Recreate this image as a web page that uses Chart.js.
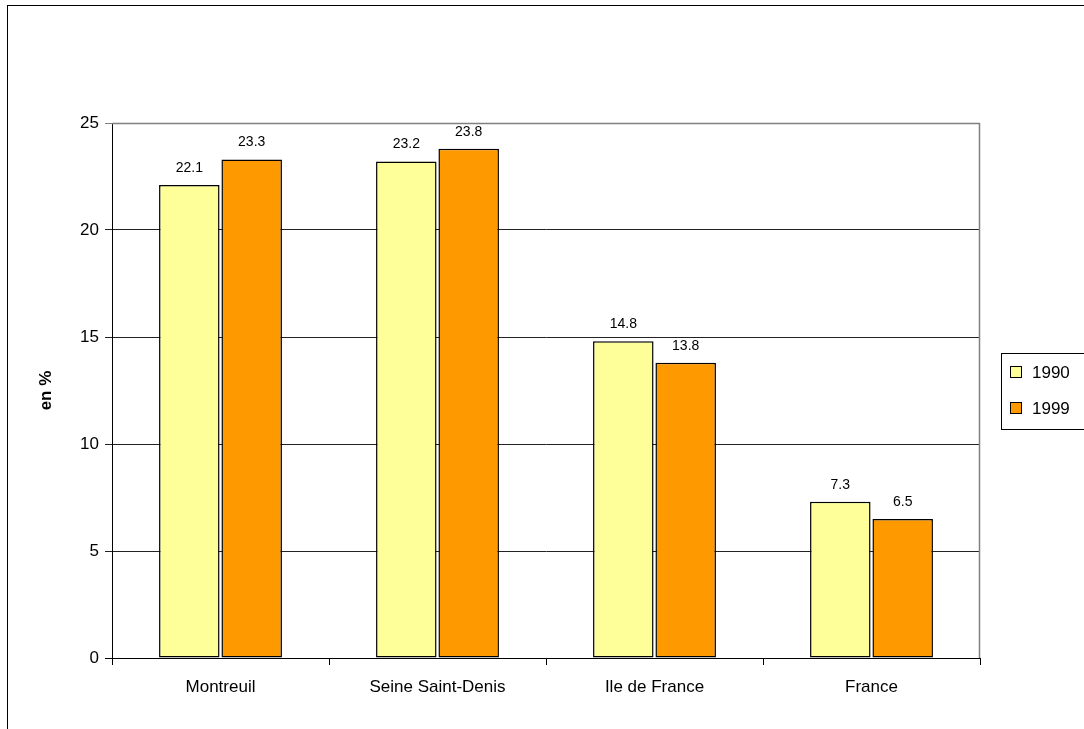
<!DOCTYPE html>
<html>
<head>
<meta charset="utf-8">
<script src="https://cdn.jsdelivr.net/npm/chart.js@4/dist/chart.umd.min.js"></script>
<style>
  html, body { margin: 0; padding: 0; background: #fff; }
  #wrap { width: 1084px; height: 729px; position: relative; }
</style>
</head>
<body>
<div id="wrap"><canvas id="c"></canvas></div>
<script>
  // categories and series
  const places = ["Montreuil", "Seine Saint-Denis", "Ile de France", "France"];
  const y1990 = [22.1, 23.2, 14.8, 7.3];
  const y1999 = [23.3, 23.8, 13.8, 6.5];
  const yTicks = [0, 5, 10, 15, 20, 25];

  const FONT = "'Liberation Sans', Arial, sans-serif";

  // outer frame + plot-area border
  const frame = {
    id: "frame",
    beforeDraw(chart) {
      const ctx = chart.ctx;
      ctx.save();
      ctx.strokeStyle = "#000";
      ctx.lineWidth = 1;
      ctx.strokeRect(7.5, 5.5, 1200, 900);
      ctx.restore();
    },
    beforeDatasetsDraw(chart) {
      const a = chart.chartArea, ctx = chart.ctx;
      ctx.save();
      ctx.strokeStyle = "#808080";
      ctx.lineWidth = 1.5;
      ctx.beginPath();
      ctx.moveTo(a.left, a.top + 0.5);
      ctx.lineTo(a.right - 0.5, a.top + 0.5);
      ctx.lineTo(a.right - 0.5, a.bottom);
      ctx.stroke();
      ctx.restore();
    }
  };

  // value labels above each bar
  const valueLabels = {
    id: "valueLabels",
    afterDatasetsDraw(chart) {
      const ctx = chart.ctx;
      ctx.save();
      ctx.font = "14px " + FONT;
      ctx.fillStyle = "#000";
      ctx.textAlign = "center";
      ctx.textBaseline = "bottom";
      chart.data.datasets.forEach((ds, di) => {
        chart.getDatasetMeta(di).data.forEach((bar, i) => {
          ctx.fillText(ds.data[i].toFixed(1), bar.x, bar.y - 10);
        });
      });
      ctx.restore();
    }
  };

  // boxed legend on the right
  const sideLegend = {
    id: "sideLegend",
    afterDraw(chart) {
      const ctx = chart.ctx;
      const x = 1001.5, y = 353.5, w = 100, h = 76;
      ctx.save();
      ctx.strokeStyle = "#000";
      ctx.lineWidth = 1;
      ctx.strokeRect(x, y, w, h);
      ctx.font = "17px " + FONT;
      ctx.textBaseline = "middle";
      chart.data.datasets.forEach((ds, i) => {
        const cy = 372 + i * 36;
        ctx.fillStyle = ds.backgroundColor;
        ctx.fillRect(1010.5, cy - 5.5, 11, 11);
        ctx.strokeStyle = "#000";
        ctx.strokeRect(1010.5, cy - 5.5, 11, 11);
        ctx.fillStyle = "#000";
        ctx.fillText(ds.label, 1032, cy + 1);
      });
      ctx.restore();
    }
  };

  new Chart(document.getElementById("c"), {
    type: "bar",
    data: {
      labels: places,
      datasets: [
        { label: "1990", data: y1990, backgroundColor: "#FFFF99", borderColor: "#000", borderWidth: 1.5,
          borderSkipped: false, barPercentage: 0.97, categoryPercentage: 0.575 },
        { label: "1999", data: y1999, backgroundColor: "#FF9900", borderColor: "#000", borderWidth: 1.5,
          borderSkipped: false, barPercentage: 0.97, categoryPercentage: 0.575 }
      ]
    },
    options: {
      responsive: true,
      maintainAspectRatio: false,
      animation: false,
      layout: { padding: { top: 123, right: 104, bottom: 0, left: 0 } },
      plugins: { legend: { display: false }, tooltip: { enabled: false } },
      scales: {
        x: {
          afterFit: (s) => { s.height = 71; },
          grid: { offset: true, drawOnChartArea: false, drawTicks: true, tickLength: 7, color: "#000" },
          border: { color: "#000", width: 1 },
          ticks: { color: "#000", font: { family: FONT, size: 17 }, padding: 12 }
        },
        y: {
          min: 0, max: 25,
          afterFit: (s) => { s.width = 112; },
          afterBuildTicks: (s) => { s.ticks = yTicks.map((v) => ({ value: v })); },
          grid: {
            tickLength: 7,
            color: (c) => (c.tick && c.tick.value === 25 ? "#808080" : c.tick && c.tick.value === 0 ? "#000" : "#222"),
          },
          border: { color: "#000", width: 1 },
          ticks: { color: "#000", font: { family: FONT, size: 17 }, padding: 6 },
          title: { display: true, text: "en %", color: "#000", font: { family: FONT, size: 17, weight: "bold" }, padding: { top: 36, bottom: 0 } }
        }
      }
    },
    plugins: [frame, valueLabels, sideLegend]
  });
</script>
</body>
</html>
